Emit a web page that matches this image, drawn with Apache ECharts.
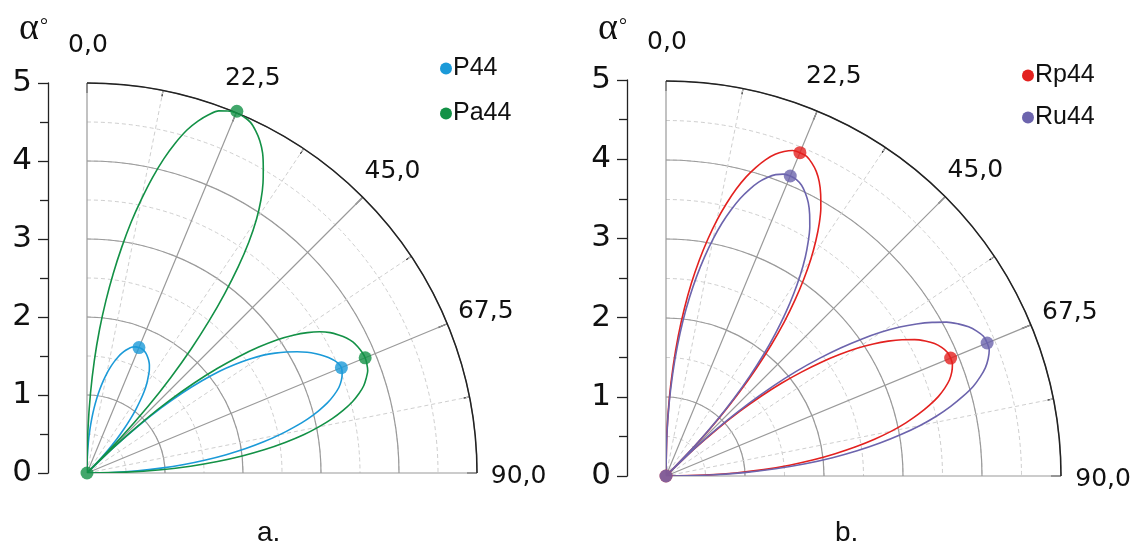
<!DOCTYPE html>
<html>
<head>
<meta charset="utf-8">
<script src="https://cdn.jsdelivr.net/npm/echarts@6/dist/echarts.min.js"></script>
<style>html,body{margin:0;padding:0;background:#fff}#c{width:1146px;height:552px}</style>
</head>
<body>
<div id="c"></div>
<script>
// ---- data ----
var angles = [0,1.25,2.5,3.75,5,6.25,7.5,8.75,10,11.25,12.5,13.75,15,16.25,17.5,18.75,20,21.25,22.5,
  23.75,25,26.25,27.5,28.75,30,31.25,32.5,33.75,35,36.25,37.5,38.75,40,41.25,42.5,43.75,45,
  46.25,47.5,48.75,50,51.25,52.5,53.75,55,56.25,57.5,58.75,60,61.25,62.5,63.75,65,66.25,67.5,
  68.75,70,71.25,72.5,73.75,75,76.25,77.5,78.75,80,81.25,82.5,83.75,85,86.25,87.5,88.75,90];
var angleTickValues = [0,22.5,45,67.5,90];
var angleTickLabels = ['0,0','22,5','45,0','67,5','90,0'];
var radiusTicks = [0,1,2,3,4,5];

var P44 = [0,.21,.39,.55,.70,.84,.97,1.09,1.20,1.30,1.39,1.47,1.54,1.60,1.65,1.69,1.72,1.735,1.74,
  1.74,1.73,1.71,1.68,1.645,1.60,1.54,1.46,1.38,1.28,1.16,1.03,.89,.74,.58,.40,.21,0,
  .47,.90,1.27,1.60,1.89,2.15,2.36,2.55,2.72,2.86,2.99,3.11,3.22,3.31,3.39,3.46,3.51,3.53,
  3.51,3.47,3.41,3.32,3.21,3.07,2.91,2.72,2.52,2.30,2.06,1.80,1.53,1.25,.95,.65,.33,0];
var Pa44 = [0,.55,1.02,1.45,1.85,2.22,2.58,2.93,3.27,3.58,3.88,4.15,4.38,4.58,4.73,4.85,4.94,4.98,5.0,
  4.99,4.96,4.89,4.80,4.68,4.52,4.35,4.15,3.91,3.62,3.28,2.90,2.50,2.08,1.63,1.16,.62,0,
  .52,1.00,1.42,1.80,2.14,2.45,2.73,2.98,3.18,3.35,3.49,3.60,3.68,3.75,3.80,3.83,3.85,3.86,
  3.85,3.83,3.78,3.72,3.63,3.52,3.38,3.22,3.03,2.82,2.57,2.30,2.00,1.68,1.33,.95,.50,0];
var Rp44 = [0,.56,1.00,1.40,1.78,2.13,2.46,2.76,3.04,3.30,3.53,3.74,3.92,4.07,4.20,4.30,4.37,4.42,4.43,
  4.42,4.37,4.30,4.20,4.07,3.92,3.74,3.53,3.30,3.04,2.76,2.46,2.13,1.78,1.40,1.00,.56,0,
  .49,.88,1.24,1.57,1.88,2.16,2.43,2.68,2.91,3.11,3.29,3.45,3.59,3.70,3.79,3.85,3.89,3.90,
  3.89,3.85,3.79,3.70,3.59,3.45,3.29,3.11,2.91,2.68,2.43,2.16,1.88,1.57,1.24,.88,.49,0];
var Ru44 = [0,.52,.93,1.30,1.65,1.98,2.28,2.56,2.82,3.06,3.28,3.47,3.64,3.78,3.90,3.99,4.06,4.10,4.11,
  4.10,4.06,3.99,3.90,3.78,3.64,3.47,3.28,3.06,2.82,2.56,2.28,1.98,1.65,1.30,.93,.52,0,
  .55,.99,1.39,1.77,2.12,2.44,2.74,3.02,3.28,3.51,3.71,3.89,4.05,4.17,4.27,4.34,4.39,4.40,
  4.39,4.34,4.27,4.17,4.05,3.89,3.71,3.51,3.28,3.02,2.74,2.44,2.12,1.77,1.39,.99,.55,0];
// peak markers [radius, angle]
var P44Peaks  = [[1.74,22.5],[3.53,67.5]];
var Pa44Peaks = [[5.02,22.5],[3.86,67.5],[0,0]];
var Rp44Peaks = [[4.43,22.5],[3.90,67.5],[0,0]];
var Ru44Peaks = [[4.11,22.5],[4.40,67.5],[0,0]];

var colors = {P44:'#1b9ad8', Pa44:'#139146', Rp44:'#e3211f', Ru44:'#6c64ad'};

function pairs(vals){ return vals.map(function(v,i){ return [v, angles[i]]; }); }

var FONT = '"Liberation Sans", Arial, sans-serif';
var NUMFONT = '"DejaVu Sans", "Liberation Sans", sans-serif';

// dashed half-unit rings (drawn first, underneath)
function dashAngleAxis(idx){
  return {polarIndex: idx, type:'value', min:0, max:90, interval:22.5, startAngle:90, endAngle:0, clockwise:true,
    axisLine:{show:false}, axisTick:{show:false}, axisLabel:{show:false}, splitLine:{show:false}};
}
function dashRadiusAxis(idx){
  return {polarIndex: idx, type:'value', min:0, max:5, interval:0.5,
    axisLine:{show:false}, axisTick:{show:false}, axisLabel:{show:false},
    splitLine:{show:true, lineStyle:{color:'#cfcfcf', width:1, type:[4,3]}}};
}
function angleAxis(idx){
  return {
    polarIndex: idx, type:'value', min:0, max:90, interval:22.5,
    startAngle:90, endAngle:0, clockwise:true,
    axisLine:{show:true, lineStyle:{color:'#222', width:1.5}},
    axisTick:{show:true, inside:true, length:10, lineStyle:{color:'#222', width:1.2}},
    minorTick:{show:true, splitNumber:2, length:6, lineStyle:{color:'#222', width:1.2}},
    splitLine:{show:true, lineStyle:{color:'#9a9a9a', width:1.2}},
    minorSplitLine:{show:true, lineStyle:{color:'#cfcfcf', width:1, type:[4,3]}},
    axisLabel:{show:false}
  };
}
function radiusAxis(idx){
  return {
    polarIndex: idx, type:'value', min:radiusTicks[0], max:radiusTicks[radiusTicks.length-1], interval:1,
    axisLine:{show:false}, axisTick:{show:false}, axisLabel:{show:false},
    splitLine:{show:true, lineStyle:{color:'#9a9a9a', width:1.2}}
  };
}
function yAx(idx, gap){
  return {
    gridIndex: idx, type:'value', min:0, max:5, interval:1,
    name:'{a|α}{d|°}', nameLocation:'end', nameGap:gap,
    nameTextStyle:{align:'right',
      rich:{a:{fontFamily:'"Liberation Serif", "DejaVu Serif", serif', fontSize:38, color:'#111'},
            d:{fontFamily:'"Liberation Serif", serif', fontSize:20, color:'#111', verticalAlign:'middle', padding:[0,0,4,1]}}},
    axisLine:{show:true, lineStyle:{color:'#222', width:1.3}},
    axisTick:{show:true, length:10, lineStyle:{color:'#222', width:1.3}},
    minorTick:{show:true, splitNumber:2, length:8, lineStyle:{color:'#222', width:1.3}},
    splitLine:{show:false},
    axisLabel:{fontSize:31, color:'#111', fontFamily:NUMFONT, margin:16}
  };
}
function xAx(idx){
  return {gridIndex: idx, type:'value', show:false, min:0, max:1};
}
function lineSeries(name, vals, pIdx, z){
  return {name:name, type:'line', coordinateSystem:'polar', polarIndex:pIdx,
    data:pairs(vals), showSymbol:false, symbol:'none', smooth:0.3, z:z,
    lineStyle:{color:colors[name], width:1.6}, itemStyle:{color:colors[name]}, animation:false};
}
function peakSeries(name, pts, pIdx, z){
  return {name:name, type:'scatter', coordinateSystem:'polar', polarIndex:pIdx,
    data:pts, symbol:'circle', symbolSize:13, z:z, clip:false,
    itemStyle:{color:colors[name]}, animation:false};
}
function angleLabelSeries(pIdx){
  return {type:'scatter', coordinateSystem:'polar', polarIndex:pIdx, silent:true, clip:false,
    data:angleTickValues.map(function(a){ return [5.52, a]; }),
    symbol:'circle', symbolSize:1, itemStyle:{color:'rgba(0,0,0,0)'},
    label:{show:true, position:'inside', offset:[1,3], fontSize:25, color:'#111', fontFamily:NUMFONT, opacity:1,
      formatter:function(p){ return angleTickLabels[p.dataIndex]; }},
    animation:false};
}

var chart = echarts.init(document.getElementById('c'), null, {renderer:'canvas'});
chart.setOption({
  animation:false,
  backgroundColor:'#fff',
  polar:[{center:[87,473], radius:390},{center:[666,476], radius:395},
         {center:[87,473], radius:390},{center:[666,476], radius:395}],
  angleAxis:[dashAngleAxis(0), dashAngleAxis(1), angleAxis(2), angleAxis(3)],
  radiusAxis:[dashRadiusAxis(0), dashRadiusAxis(1), radiusAxis(2), radiusAxis(3)],
  grid:[{left:48, top:83, width:1, height:390},{left:627, top:80, width:1, height:396}],
  xAxis:[xAx(0), xAx(1)],
  yAxis:[yAx(0, 35), yAx(1, 32)],
  legend:[
    {data:['P44','Pa44'], orient:'vertical', left:435, top:51, icon:'circle', itemWidth:12, itemHeight:12,
     itemGap:20, textStyle:{fontSize:25, color:'#111', fontFamily:FONT, padding:[0,0,0,-4]}},
    {data:['Rp44','Ru44'], orient:'vertical', left:1017, top:58, icon:'circle', itemWidth:12, itemHeight:12,
     itemGap:17, textStyle:{fontSize:25, color:'#111', fontFamily:FONT, padding:[0,0,0,-4]}}
  ],
  graphic:[
    {type:'text', x:257, y:533, style:{text:'a.', fill:'#111', font:'28px "Liberation Sans", Arial', align:'left', verticalAlign:'middle'}},
    {type:'text', x:835, y:533, style:{text:'b.', fill:'#111', font:'28px "Liberation Sans", Arial', align:'left', verticalAlign:'middle'}}
  ],
  series:[
    lineSeries('P44', P44, 2, 3),
    lineSeries('Pa44', Pa44, 2, 4),
    peakSeries('P44', P44Peaks, 2, 5),
    peakSeries('Pa44', Pa44Peaks, 2, 6),
    lineSeries('Rp44', Rp44, 3, 3),
    lineSeries('Ru44', Ru44, 3, 4),
    peakSeries('Rp44', Rp44Peaks, 3, 5),
    peakSeries('Ru44', Ru44Peaks, 3, 6),
    angleLabelSeries(2),
    angleLabelSeries(3)
  ]
});
</script>
</body>
</html>
